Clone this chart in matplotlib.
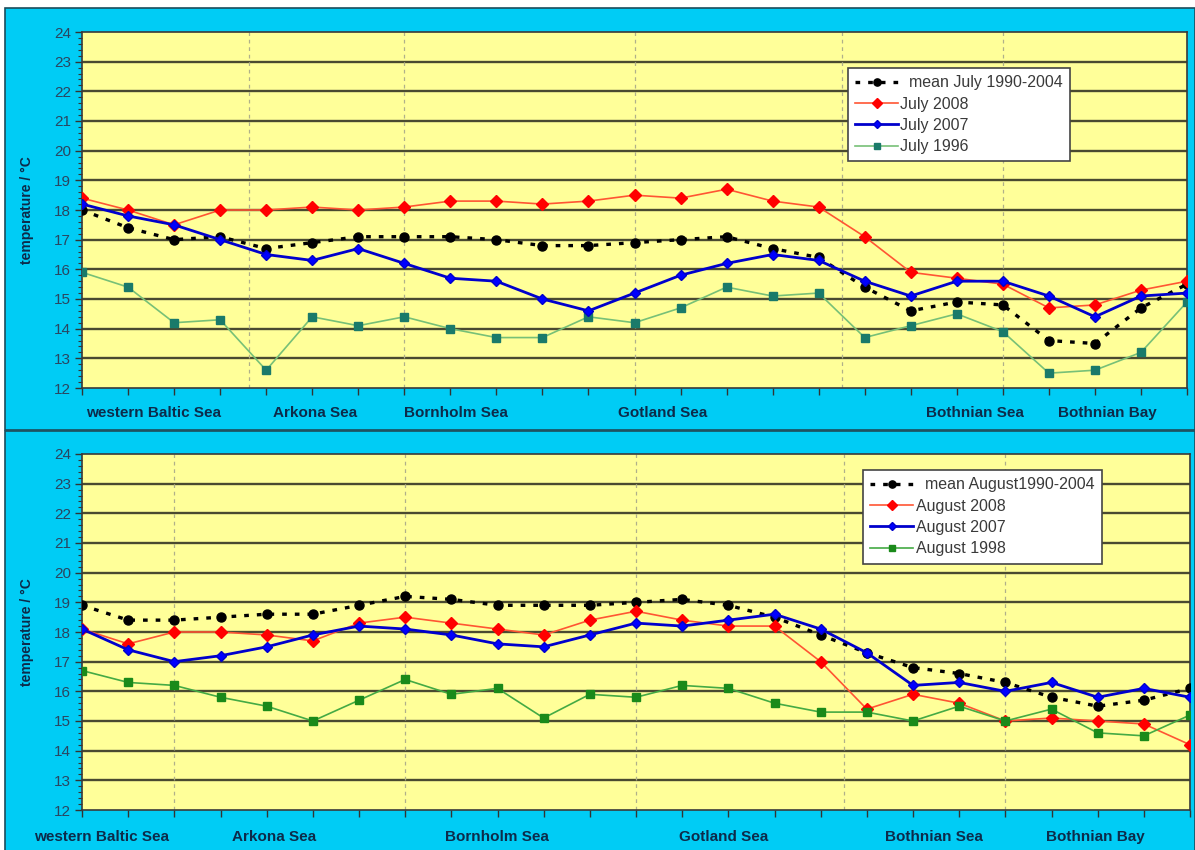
import numpy as np
import matplotlib
matplotlib.use("Agg")
import matplotlib.pyplot as plt
from matplotlib.patches import Rectangle
from matplotlib.ticker import MultipleLocator
from matplotlib.transforms import blended_transform_factory

plt.rcParams['font.family'] = ['Liberation Sans', 'DejaVu Sans']

# Surface temperature along the station transect (25 stations, west -> north)
stations = np.arange(25)

july_mean = [18.0, 17.4, 17.0, 17.1, 16.7, 16.9, 17.1, 17.1, 17.1, 17.0, 16.8, 16.8, 16.9,
             17.0, 17.1, 16.7, 16.4, 15.4, 14.6, 14.9, 14.8, 13.6, 13.5, 14.7, 15.5]
july_2008 = [18.4, 18.0, 17.5, 18.0, 18.0, 18.1, 18.0, 18.1, 18.3, 18.3, 18.2, 18.3, 18.5,
             18.4, 18.7, 18.3, 18.1, 17.1, 15.9, 15.7, 15.5, 14.7, 14.8, 15.3, 15.6]
july_2007 = [18.2, 17.8, 17.5, 17.0, 16.5, 16.3, 16.7, 16.2, 15.7, 15.6, 15.0, 14.6, 15.2,
             15.8, 16.2, 16.5, 16.3, 15.6, 15.1, 15.6, 15.6, 15.1, 14.4, 15.1, 15.2]
july_1996 = [15.9, 15.4, 14.2, 14.3, 12.6, 14.4, 14.1, 14.4, 14.0, 13.7, 13.7, 14.4, 14.2,
             14.7, 15.4, 15.1, 15.2, 13.7, 14.1, 14.5, 13.9, 12.5, 12.6, 13.2, 14.9]

aug_mean = [18.9, 18.4, 18.4, 18.5, 18.6, 18.6, 18.9, 19.2, 19.1, 18.9, 18.9, 18.9, 19.0,
            19.1, 18.9, 18.5, 17.9, 17.3, 16.8, 16.6, 16.3, 15.8, 15.5, 15.7, 16.1]
aug_2008 = [18.1, 17.6, 18.0, 18.0, 17.9, 17.7, 18.3, 18.5, 18.3, 18.1, 17.9, 18.4, 18.7,
            18.4, 18.2, 18.2, 17.0, 15.4, 15.9, 15.6, 15.0, 15.1, 15.0, 14.9, 14.2]
aug_2007 = [18.1, 17.4, 17.0, 17.2, 17.5, 17.9, 18.2, 18.1, 17.9, 17.6, 17.5, 17.9, 18.3,
            18.2, 18.4, 18.6, 18.1, 17.3, 16.2, 16.3, 16.0, 16.3, 15.8, 16.1, 15.8]
aug_1998 = [16.7, 16.3, 16.2, 15.8, 15.5, 15.0, 15.7, 16.4, 15.9, 16.1, 15.1, 15.9, 15.8,
            16.2, 16.1, 15.6, 15.3, 15.3, 15.0, 15.5, 15.0, 15.4, 14.6, 14.5, 15.2]

regions = ['western Baltic Sea', 'Arkona Sea', 'Bornholm Sea', 'Gotland Sea',
           'Bothnian Sea', 'Bothnian Bay']
top_region_x = [1.55, 5.07, 8.12, 12.61, 19.4, 22.27]
bot_region_x = [0.42, 4.15, 8.98, 13.9, 18.46, 21.94]
top_bounds = [3.63, 7, 12, 16.5, 20]
bot_bounds = [2, 7, 12, 16.5, 20]

CYAN = '#00ccf5'
YELLOW = '#ffff99'
NAVY = '#0d2b4a'

W, H = 1195, 850
fig = plt.figure(figsize=(W / 100, H / 100), dpi=100, facecolor='white')

# cyan chart areas with a thin dark frame
for (x0, y0, x1, y1) in [(5, 8, 1195, 430), (5, 431, 1195, 852)]:
    fig.add_artist(Rectangle((x0 / W, 1 - y1 / H), (x1 - x0) / W, (y1 - y0) / H,
                             transform=fig.transFigure, facecolor=CYAN,
                             edgecolor='#1b4d5c', linewidth=1.2, zorder=0))


def panel(rect, series, labels, bounds, region_x, region_y, legend_anchor, green):
    ax = fig.add_axes(rect)
    ax.set_facecolor(YELLOW)
    ax.set_xlim(0, 24)
    ax.set_ylim(12, 24)
    ax.set_yticks(np.arange(12, 25, 1))
    ax.yaxis.set_minor_locator(MultipleLocator(0.2))
    ax.set_xticks(stations)
    ax.set_xticklabels([])
    ax.tick_params(axis='y', which='major', length=5, width=1, color='#333333',
                   labelsize=11, labelcolor='#2a4560', pad=3)
    ax.tick_params(axis='y', which='minor', length=3, width=0.8, color='#333333')
    ax.tick_params(axis='x', length=5, width=1, color='#333333')
    for y in range(13, 24):
        ax.axhline(y, color='#4a4a30', lw=1.7, zorder=1)
    for xb in bounds:
        ax.axvline(xb, color='#b0b08a', lw=0.9, ls=(0, (3, 3)), zorder=1)
    for s in ax.spines.values():
        s.set_color('#3a3a3a')
        s.set_linewidth(1.2)

    mean, y08, y07, yold = series
    ax.plot(stations, mean, color='black', lw=2.4, ls=(0, (1.4, 2.4)),
            marker='o', ms=6.5, mfc='black', mec='black', zorder=3, label=labels[0])
    ax.plot(stations, y08, color='#ff5533', lw=1.2, marker='D', ms=6,
            mfc='#ff0000', mec='#ff0000', zorder=4, label=labels[1])
    ax.plot(stations, y07, color='#0000cc', lw=2.0, marker='D', ms=5.5,
            mfc='#0000ff', mec='#0000cc', zorder=5, label=labels[2])
    ax.plot(stations, yold, color=green[1], lw=1.2, marker='s', ms=5.5,
            mfc=green[0], mec=green[0], zorder=4, label=labels[3])

    ax.set_ylabel('temperature / °C', fontsize=10, fontweight='bold',
                  color=NAVY, labelpad=14)

    tr = blended_transform_factory(ax.transData, ax.transAxes)
    for name, xc in zip(regions, region_x):
        ax.text(xc, region_y, name, transform=tr, ha='center', va='center',
                fontsize=11, fontweight='bold', color=NAVY)

    leg = ax.legend(loc='upper left', bbox_to_anchor=legend_anchor, borderaxespad=0,
                    fontsize=11.5, frameon=True, fancybox=False, framealpha=1,
                    handlelength=2.7, handletextpad=0.15, labelspacing=0.4,
                    borderpad=0.45, markerscale=0.8)
    leg.get_frame().set_edgecolor('#444444')
    leg.get_frame().set_linewidth(1.2)
    for t in leg.get_texts():
        t.set_color('#3a3a3a')
    return ax


panel([82 / W, 1 - 388 / H, 1105 / W, 356 / H],
      [july_mean, july_2008, july_2007, july_1996],
      ['  mean July 1990-2004', 'July 2008', 'July 2007', 'July 1996'],
      top_bounds, top_region_x, -0.070, (0.693, 0.899), ('#1a7a6a', '#77c077'))

panel([82 / W, 1 - 810 / H, 1108 / W, 356 / H],
      [aug_mean, aug_2008, aug_2007, aug_1998],
      ['  mean August1990-2004', 'August 2008', 'August 2007', 'August 1998'],
      bot_bounds, bot_region_x, -0.076, (0.705, 0.955), ('#1a8a1a', '#44aa44'))

fig.savefig('out.png', dpi=100, facecolor='white')
